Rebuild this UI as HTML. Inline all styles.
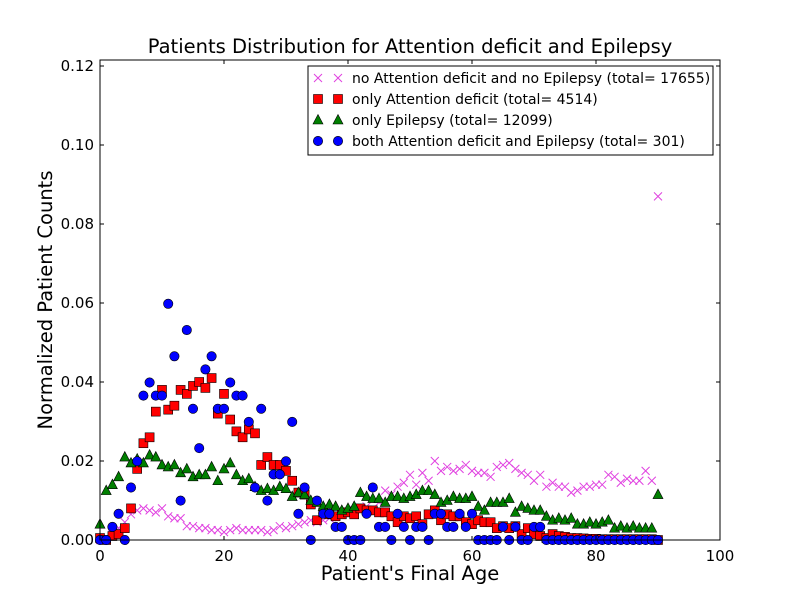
<!DOCTYPE html>
<html><head><meta charset="utf-8"><style>
body{margin:0;background:#fff}
svg text{font-family:"DejaVu Sans","Liberation Sans",sans-serif;fill:#000}
</style></head><body>
<svg id="chart" width="800" height="600" xmlns="http://www.w3.org/2000/svg">
<rect width="800" height="600" fill="#fff"/>
<rect x="100" y="60" width="620" height="480" fill="#fff" stroke="none"/>
<g id="marks"></g>
<g id="axes"></g>
<text x="410" y="53" text-anchor="middle" font-size="19.5">Patients Distribution for Attention deficit and Epilepsy</text>
<text x="410" y="580" text-anchor="middle" font-size="19.5">Patient's Final Age</text>
<text transform="translate(52,300) rotate(-90)" text-anchor="middle" font-size="19.5">Normalized Patient Counts</text>
<g>
<rect x="308" y="66" width="405" height="89" fill="#fff" stroke="#000"/>
<g id="legend"></g>
</g>
</svg>
<script>
const ages=[];for(let i=0;i<=90;i++)ages.push(i);
const noneVals=[0,0.0005,0.0015,0.003,0.0045,0.0065,0.0075,0.008,0.0075,0.007,0.008,0.006,0.0055,0.0055,0.0035,0.0035,0.003,0.003,0.0025,0.0025,0.002,0.0025,0.003,0.0025,0.0025,0.0025,0.0025,0.002,0.0025,0.0035,0.003,0.0035,0.004,0.0045,0.005,0.0045,0.005,0.0055,0.006,0.0065,0.007,0.0075,0.008,0.0085,0.0075,0.0095,0.0125,0.0115,0.0135,0.0145,0.0165,0.014,0.017,0.015,0.02,0.0175,0.0185,0.0175,0.018,0.019,0.0175,0.017,0.017,0.016,0.0185,0.019,0.0195,0.018,0.017,0.0165,0.015,0.0165,0.0135,0.0145,0.0135,0.0135,0.012,0.0125,0.0135,0.0135,0.014,0.014,0.0165,0.016,0.0145,0.0155,0.015,0.015,0.0175,0.015,0.087];
const adVals=[0.0005,0,0.001,0.0015,0.003,0.008,0.018,0.0245,0.026,0.0325,0.038,0.033,0.034,0.038,0.037,0.039,0.04,0.0385,0.041,0.032,0.037,0.0305,0.0275,0.026,0.028,0.027,0.019,0.021,0.019,0.019,0.0175,0.015,0.012,0.0115,0.009,0.005,0.007,0.0065,0.006,0.0065,0.007,0.0065,0.008,0.0075,0.0075,0.007,0.007,0.006,0.0045,0.006,0.0055,0.006,0.004,0.0065,0.0075,0.005,0.0065,0.006,0.006,0.0045,0.004,0.005,0.0045,0.0045,0.003,0.0035,0.003,0.0035,0.0015,0.003,0.0015,0.001,0.0005,0.0015,0.001,0.0008,0.0005,0.0005,0.0004,0.0003,0.0003,0.0002,0.0002,0.0002,0.0002,0.0002,0.0002,0.0002,0.0002,0.0002,0];
const epVals=[0.004,0.0125,0.014,0.016,0.021,0.0195,0.0205,0.0195,0.0215,0.021,0.019,0.0185,0.019,0.017,0.018,0.016,0.0165,0.0165,0.0185,0.015,0.018,0.0195,0.0165,0.015,0.0155,0.0135,0.0125,0.013,0.0125,0.0135,0.013,0.011,0.012,0.0115,0.01,0.0095,0.0085,0.009,0.0085,0.0075,0.008,0.0085,0.012,0.011,0.0105,0.0105,0.0095,0.011,0.011,0.0105,0.011,0.0115,0.0125,0.0125,0.0115,0.0095,0.01,0.011,0.0105,0.0105,0.011,0.0085,0.0075,0.0095,0.0095,0.0095,0.0105,0.007,0.0085,0.008,0.0075,0.0075,0.006,0.005,0.0055,0.005,0.0055,0.004,0.004,0.0045,0.004,0.0045,0.005,0.003,0.0035,0.003,0.0035,0.003,0.003,0.003,0.0115];
const bothCounts=[0,0,1,2,0,4,6,11,12,11,11,18,14,3,16,10,7,13,14,10,10,12,11,11,9,4,10,3,5,5,6,9,2,4,0,3,2,2,1,1,0,0,0,2,4,1,1,0,2,1,0,1,1,0,2,2,1,1,2,1,2,0,0,0,0,1,0,1,0,0,1,1,0,0,0,0,0,0,0,0,0,0,0,0,0,0,0,0,0,0,0];
const bothTotal=301;
const xTicks=[0,20,40,60,80,100];
const yTicks=[0,0.02,0.04,0.06,0.08,0.10,0.12];
const yTickLabels=["0.00","0.02","0.04","0.06","0.08","0.10","0.12"];
const legendLabels=["no Attention deficit and no Epilepsy (total= 17655)","only Attention deficit (total= 4514)","only Epilepsy (total= 12099)","both Attention deficit and Epilepsy (total= 301)"];

const NS="http://www.w3.org/2000/svg";
const X=v=>100+v*6.2;
const Y=v=>540-v*3950;
function mk(tag,attrs,parent){const e=document.createElementNS(NS,tag);for(const k in attrs)e.setAttribute(k,attrs[k]);parent.appendChild(e);return e;}
const marks=document.getElementById('marks');
function cross(x,y,p){return mk('path',{d:`M${x-4},${y-4}L${x+4},${y+4}M${x-4},${y+4}L${x+4},${y-4}`,stroke:'#e040e0','stroke-width':1,fill:'none'},p);}
function square(x,y,p){return mk('rect',{x:x-4.5,y:y-4.5,width:9,height:9,fill:'#f00',stroke:'#000','stroke-width':0.6},p);}
function tri(x,y,p){return mk('path',{d:`M${x},${y-5.5}L${x+5},${y+4}L${x-5},${y+4}Z`,fill:'#007f00',stroke:'#000','stroke-width':0.6},p);}
function circ(x,y,p){return mk('circle',{cx:x,cy:y,r:4.7,fill:'#00f',stroke:'#000','stroke-width':0.6},p);}
const g1=mk('g',{},marks);
ages.forEach((a,i)=>{const e=cross(X(a),Y(noneVals[i]),g1);

});
const g2=mk('g',{},marks);
ages.forEach((a,i)=>{const e=square(X(a),Y(adVals[i]),g2);

});
const g3=mk('g',{},marks);
ages.forEach((a,i)=>{const e=tri(X(a),Y(epVals[i]),g3);

});
const g4=mk('g',{},marks);
ages.forEach((a,i)=>{const e=circ(X(a),Y(bothCounts[i]/bothTotal),g4);

});

const ax=document.getElementById('axes');
const fr=mk('rect',{x:100,y:60,width:620,height:480,fill:'none',stroke:'#000','stroke-width':1},ax);


xTicks.forEach(t=>{const x=X(t);
mk('line',{x1:x,x2:x,y1:540,y2:536,stroke:'#000'},ax);mk('line',{x1:x,x2:x,y1:60,y2:64,stroke:'#000'},ax);
const tx=mk('text',{x:x,y:561,'text-anchor':'middle','font-size':15},ax);tx.textContent=t;

});
yTicks.forEach((t,i)=>{const y=Y(t);
mk('line',{x1:100,x2:104,y1:y,y2:y,stroke:'#000'},ax);mk('line',{x1:720,x2:716,y1:y,y2:y,stroke:'#000'},ax);
const tx=mk('text',{x:94,y:y+5,'text-anchor':'end','font-size':15},ax);tx.textContent=yTickLabels[i];

});

const lg=document.getElementById('legend');
const fns=[cross,square,tri,circ];
legendLabels.forEach((l,i)=>{const y=78+i*21;
const g=mk('g',{},lg);


fns[i](318,y,g);fns[i](338,y,g);
const t=mk('text',{x:352,y:y+5,'font-size':14},g);t.textContent=l;});
</script>
</body></html>
